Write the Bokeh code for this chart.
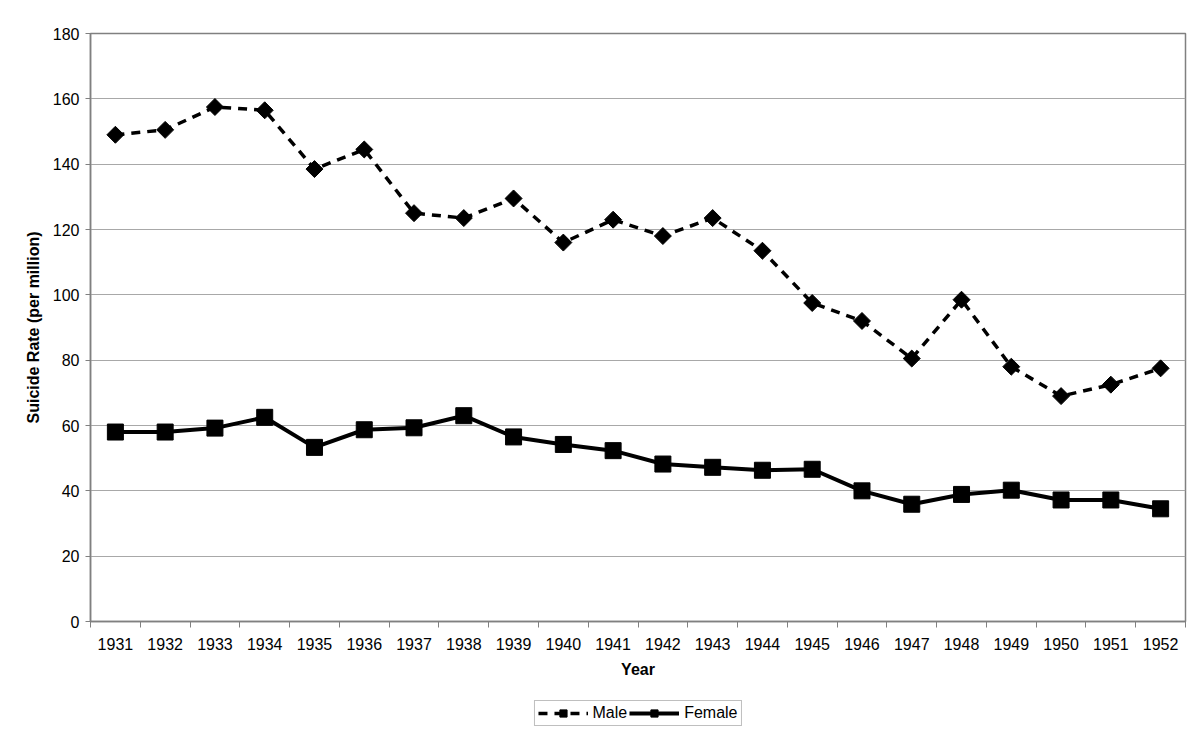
import math
from bokeh.plotting import figure
from bokeh.layouts import column
from bokeh.models import FixedTicker, Range1d, Legend, LegendItem, ColumnDataSource
from bokeh.embed import file_html
from bokeh.resources import INLINE

years = list(range(1931, 1953))
male = [149, 150.5, 157.5, 156.5, 138.5, 144.5, 125, 123.5, 129.5, 116, 123,
        118, 123.5, 113.5, 97.5, 92, 80.5, 98.5, 78, 69, 72.5, 77.5]
female = [58, 58, 59.2, 62.5, 53.3, 58.7, 59.3, 63, 56.5, 54.2, 52.3,
          48.2, 47.2, 46.3, 46.6, 40, 35.9, 38.9, 40.2, 37.2, 37.2, 34.5]
y_ticks = list(range(0, 181, 20))

FONT = "Liberation Sans"

src = ColumnDataSource(dict(year=years, male=male, female=female))

p = figure(width=1192, height=690, output_backend="svg", toolbar_location=None,
           x_range=Range1d(years[0] - 0.5, years[-1] + 0.5), y_range=Range1d(0, 180),
           min_border_left=90, min_border_right=7, min_border_top=33, min_border_bottom=69)

p.background_fill_color = "white"
p.border_fill_color = "white"
p.outline_line_color = "#808080"
p.outline_line_width = 1.5

bounds = [y - 0.5 for y in years] + [years[-1] + 0.5]
p.xaxis.ticker = FixedTicker(ticks=years, minor_ticks=bounds)
p.xaxis.major_tick_out = 0
p.xaxis.major_tick_in = 0
p.xaxis.minor_tick_out = 6
p.xaxis.minor_tick_in = 0
p.xaxis.minor_tick_line_color = "#808080"
p.xaxis.major_label_standoff = 10
p.xaxis.axis_label = "Year"
p.xaxis.axis_label_standoff = 8

p.yaxis.ticker = FixedTicker(ticks=y_ticks)
p.yaxis.major_tick_out = 5
p.yaxis.major_tick_in = 0
p.yaxis.minor_tick_line_color = None
p.yaxis.major_label_standoff = 6
p.yaxis.axis_label = "Suicide Rate (per million)"
p.yaxis.axis_label_standoff = 8

for ax in (p.xaxis[0], p.yaxis[0]):
    ax.axis_line_color = "#808080"
    ax.axis_line_width = 1.5
    ax.major_tick_line_color = "#808080"
    ax.major_label_text_font = FONT
    ax.major_label_text_font_size = "16px"
    ax.major_label_text_color = "black"
    ax.axis_label_text_font = FONT
    ax.axis_label_text_font_size = "16px"
    ax.axis_label_text_font_style = "bold"
    ax.axis_label_text_color = "black"

p.xgrid.grid_line_color = None
p.ygrid.ticker = FixedTicker(ticks=y_ticks)
p.ygrid.grid_line_color = "#a8a8a8"
p.ygrid.grid_line_width = 1

MALE_LINE = dict(line_color="black", line_width=3.5, line_dash="9 7")
MALE_MARK = dict(marker="square", angle=math.pi / 4, size=12, fill_color="black", line_color="black")
FEMALE_LINE = dict(line_color="black", line_width=4)
FEMALE_MARK = dict(marker="square", size=16, fill_color="black", line_color="black")

p.line("year", "male", source=src, **MALE_LINE)
p.scatter("year", "male", source=src, **MALE_MARK)
p.line("year", "female", source=src, **FEMALE_LINE)
p.scatter("year", "female", source=src, **FEMALE_MARK)

# legend strip below the chart; its renderers use the same data but their ranges
# show none of it, so they only supply the legend glyphs
lg = figure(width=1192, height=45, output_backend="svg", toolbar_location=None,
            x_range=Range1d(0, 1), y_range=Range1d(0, 1), x_axis_type=None, y_axis_type=None,
            min_border_left=90, min_border_right=7, min_border_top=0, min_border_bottom=0)
lg.outline_line_color = None
lg.xgrid.visible = False
lg.ygrid.visible = False
ml = lg.line("year", "male", source=src, **MALE_LINE)
mm = lg.scatter("year", "male", source=src, **MALE_MARK)
fl = lg.line("year", "female", source=src, **FEMALE_LINE)
fm = lg.scatter("year", "female", source=src, **FEMALE_MARK)

legend = Legend(items=[LegendItem(label="Male", renderers=[ml, mm]),
                       LegendItem(label="Female", renderers=[fl, fm])],
                orientation="horizontal", location="center")
legend.label_text_font = FONT
legend.label_text_font_size = "16px"
legend.label_text_color = "black"
legend.glyph_width = 50
legend.glyph_height = 18
legend.label_standoff = 5
legend.spacing = 2
legend.padding = 3
legend.margin = 0
legend.border_line_color = "#808080"
legend.border_line_width = 1
lg.add_layout(legend)

layout = column(p, lg, spacing=0)
open("out.html", "w").write(file_html(layout, INLINE))
